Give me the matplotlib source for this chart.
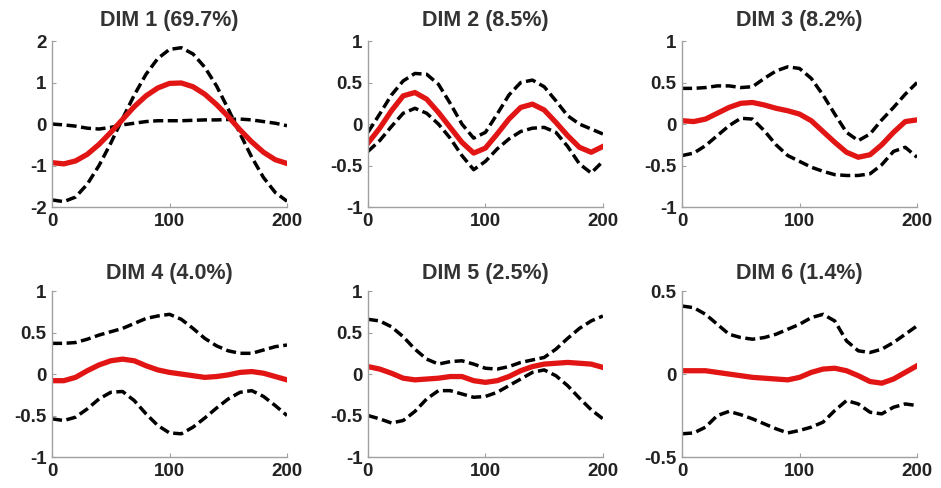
import numpy as np
import matplotlib
matplotlib.use('Agg')
import matplotlib.pyplot as plt

plt.rcParams['font.family'] = ['Liberation Sans', 'DejaVu Sans']

# time axis (samples), read every 10 units
x = np.arange(0, 201, 10)

titles = ['DIM 1 (69.7%)', 'DIM 2 (8.5%)', 'DIM 3 (8.2%)',
          'DIM 4 (4.0%)', 'DIM 5 (2.5%)', 'DIM 6 (1.4%)']

# mean curves (red)
mean1 = [-0.93, -0.96, -0.89, -0.73, -0.49, -0.20, 0.11, 0.42, 0.68, 0.87, 0.98,
         0.99, 0.90, 0.72, 0.47, 0.18, -0.14, -0.43, -0.68, -0.86, -0.95]
mean2 = [-0.23, -0.05, 0.16, 0.34, 0.38, 0.30, 0.14, -0.04, -0.22, -0.35, -0.29,
         -0.12, 0.06, 0.20, 0.24, 0.17, 0.02, -0.14, -0.28, -0.34, -0.27]
mean3 = [0.04, 0.03, 0.06, 0.13, 0.20, 0.25, 0.26, 0.23, 0.19, 0.16, 0.12,
         0.04, -0.09, -0.22, -0.34, -0.40, -0.37, -0.25, -0.10, 0.03, 0.05]
mean4 = [-0.08, -0.08, -0.04, 0.04, 0.11, 0.16, 0.18, 0.16, 0.10, 0.05, 0.02,
         0.00, -0.02, -0.04, -0.03, -0.01, 0.02, 0.03, 0.01, -0.03, -0.07]
mean5 = [0.09, 0.06, 0.01, -0.05, -0.07, -0.06, -0.05, -0.03, -0.03, -0.08, -0.10,
         -0.08, -0.03, 0.04, 0.09, 0.12, 0.13, 0.14, 0.13, 0.12, 0.08]
mean6 = [0.02, 0.02, 0.02, 0.01, 0.00, -0.01, -0.02, -0.025, -0.03, -0.035, -0.02,
         0.01, 0.03, 0.035, 0.02, -0.01, -0.045, -0.055, -0.03, 0.01, 0.05]

# upper bound curves (dashed)
upper1 = [-1.83, -1.87, -1.76, -1.45, -1.00, -0.46, 0.13, 0.70, 1.20, 1.58, 1.80,
          1.84, 1.69, 1.37, 0.92, 0.36, -0.23, -0.80, -1.29, -1.65, -1.86]
upper2 = [-0.10, 0.12, 0.35, 0.52, 0.61, 0.60, 0.48, 0.25, 0.00, -0.17, -0.10,
          0.12, 0.35, 0.50, 0.53, 0.45, 0.28, 0.10, 0.00, -0.06, -0.12]
upper3 = [0.43, 0.43, 0.44, 0.46, 0.46, 0.44, 0.45, 0.55, 0.64, 0.69, 0.67,
          0.55, 0.35, 0.12, -0.10, -0.20, -0.12, 0.05, 0.20, 0.36, 0.50]
upper4 = [0.37, 0.37, 0.38, 0.42, 0.47, 0.51, 0.55, 0.61, 0.67, 0.70, 0.72,
          0.66, 0.55, 0.43, 0.34, 0.28, 0.25, 0.25, 0.29, 0.33, 0.35]
upper5 = [0.66, 0.64, 0.57, 0.45, 0.30, 0.18, 0.12, 0.15, 0.16, 0.12, 0.07,
          0.06, 0.09, 0.14, 0.17, 0.20, 0.30, 0.43, 0.55, 0.64, 0.70]
upper6 = [0.41, 0.40, 0.36, 0.30, 0.24, 0.22, 0.21, 0.22, 0.24, 0.27, 0.30,
          0.34, 0.36, 0.32, 0.20, 0.14, 0.13, 0.15, 0.19, 0.24, 0.29]

# lower bound curves (dashed)
lower1 = [0.00, -0.02, -0.05, -0.10, -0.12, -0.08, -0.02, 0.02, 0.06, 0.08, 0.08,
          0.08, 0.09, 0.10, 0.10, 0.11, 0.12, 0.10, 0.06, 0.02, -0.04]
lower2 = [-0.33, -0.20, -0.03, 0.13, 0.19, 0.13, 0.00, -0.17, -0.38, -0.55, -0.45,
          -0.30, -0.18, -0.09, -0.05, -0.04, -0.10, -0.27, -0.48, -0.59, -0.45]
lower3 = [-0.38, -0.35, -0.26, -0.14, -0.02, 0.07, 0.06, -0.08, -0.25, -0.38, -0.45,
          -0.52, -0.57, -0.61, -0.62, -0.62, -0.60, -0.49, -0.33, -0.28, -0.40]
lower4 = [-0.54, -0.56, -0.52, -0.42, -0.30, -0.22, -0.21, -0.32, -0.48, -0.62, -0.71,
          -0.72, -0.64, -0.53, -0.41, -0.30, -0.22, -0.20, -0.27, -0.38, -0.50]
lower5 = [-0.50, -0.54, -0.59, -0.56, -0.45, -0.30, -0.20, -0.20, -0.24, -0.28, -0.27,
          -0.22, -0.14, -0.06, 0.02, 0.05, -0.02, -0.14, -0.29, -0.43, -0.54]
lower6 = [-0.36, -0.355, -0.32, -0.25, -0.225, -0.245, -0.27, -0.30, -0.33, -0.355, -0.34,
          -0.32, -0.29, -0.22, -0.16, -0.18, -0.23, -0.24, -0.20, -0.18, -0.19]

means = [mean1, mean2, mean3, mean4, mean5, mean6]
uppers = [upper1, upper2, upper3, upper4, upper5, upper6]
lowers = [lower1, lower2, lower3, lower4, lower5, lower6]

ylims = [(-2, 2), (-1, 1), (-1, 1), (-1, 1), (-1, 1), (-0.5, 0.5)]
yticks = [[-2, -1, 0, 1, 2],
          [-1, -0.5, 0, 0.5, 1],
          [-1, -0.5, 0, 0.5, 1],
          [-1, -0.5, 0, 0.5, 1],
          [-1, -0.5, 0, 0.5, 1],
          [-0.5, 0, 0.5]]
yticklabels = [['-2', '-1', '0', '1', '2'],
               ['-1', '-0.5', '0', '0.5', '1'],
               ['-1', '-0.5', '0', '0.5', '1'],
               ['-1', '-0.5', '0', '0.5', '1'],
               ['-1', '-0.5', '0', '0.5', '1'],
               ['-0.5', '0', '0.5']]

fig = plt.figure(figsize=(9.41, 4.88), dpi=100)

lefts = [0.0553, 0.391, 0.7248]
bottoms = [0.5758, 0.0635]
w, h = 0.2497, 0.340

for i in range(6):
    r, c = divmod(i, 3)
    ax = fig.add_axes([lefts[c], bottoms[r], w, h])
    ax.plot(x, uppers[i], color='black', lw=2.5, dashes=(2.9, 1.3))
    ax.plot(x, lowers[i], color='black', lw=2.5, dashes=(2.9, 1.3))
    ax.plot(x, means[i], color='#e21515', lw=3.8, solid_joinstyle='round')
    ax.set_xlim(0, 200)
    ax.set_ylim(*ylims[i])
    ax.set_xticks([0, 100, 200])
    ax.set_xticklabels(['0', '100', '200'])
    ax.set_yticks(yticks[i])
    ax.set_yticklabels(yticklabels[i])
    for s in ['top', 'right']:
        ax.spines[s].set_visible(False)
    for s in ['left', 'bottom']:
        ax.spines[s].set_color('#a0a0a0')
        ax.spines[s].set_linewidth(1.0)
    ax.tick_params(direction='in', length=3, color='#a0a0a0', labelsize=13.5, pad=4)
    for lab in ax.get_xticklabels() + ax.get_yticklabels():
        lab.set_fontweight('bold')
        lab.set_color('#222222')
    ax.set_title(titles[i], fontsize=15.5, fontweight='bold', color='#333333',
                 pad=11 if r == 0 else 9)

fig.savefig('out.png', dpi=100)
